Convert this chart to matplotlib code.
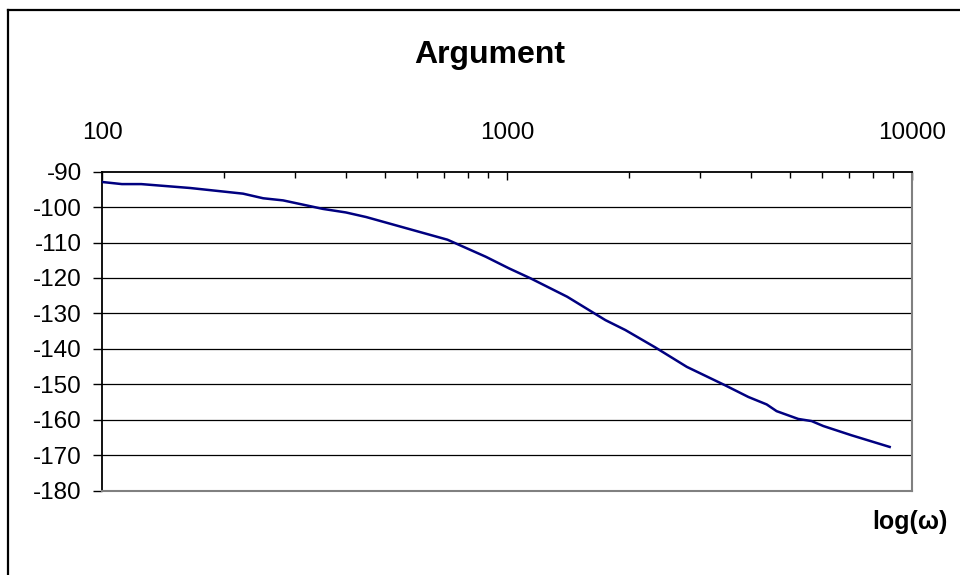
import matplotlib
matplotlib.use("Agg")
import matplotlib.pyplot as plt
from matplotlib.lines import Line2D
from matplotlib.ticker import LogLocator, FixedLocator, NullFormatter

plt.rcParams['font.family'] = ['Liberation Sans', 'DejaVu Sans']

omega = [100, 112, 125, 165, 223, 250, 280, 351, 400, 449, 713, 886, 1012, 1143,
         1408, 1750, 1960, 2323, 2780, 3456, 3945, 4377, 4632, 5238, 5650, 6040,
         7085, 8808]
arg = [-92.9, -93.5, -93.5, -94.6, -96.2, -97.5, -98.1, -100.5, -101.5, -102.8,
       -109.2, -114.0, -117.3, -120.1, -125.3, -131.9, -134.7, -139.6, -145.1,
       -150.3, -153.6, -155.7, -157.6, -159.8, -160.4, -161.8, -164.4, -167.7]
x_major = [100, 1000, 10000]
x_labels = ['100', '1000', '10000']
y_ticks = list(range(-180, -89, 10))
y_labels = [str(v) for v in y_ticks]

W, H = 960, 575
fig = plt.figure(figsize=(W / 100, H / 100), dpi=100)
ax = fig.add_axes([102 / W, 1 - 490.5 / H, (912 - 102) / W, (490.5 - 171.7) / H])

ax.plot(omega, arg, color='#000080', lw=1.8, zorder=3)
ax.set_xscale('log')
ax.set_xlim(100, 10000)
ax.set_ylim(-180, -90)

ax.xaxis.tick_top()
ax.xaxis.set_major_locator(FixedLocator(x_major))
ax.set_xticklabels(x_labels)
ax.xaxis.set_minor_locator(LogLocator(base=10, subs=range(2, 10)))
ax.xaxis.set_minor_formatter(NullFormatter())
ax.tick_params(axis='x', which='major', direction='in', length=6, width=1,
               color='black', labelsize=17.5, pad=20)
ax.tick_params(axis='x', which='minor', direction='in', length=4.5, width=1,
               color='black')

ax.set_yticks(y_ticks)
ax.set_yticklabels(y_labels)
ax.tick_params(axis='y', which='major', direction='out', length=6.5, width=1,
               color='black', labelsize=17.5, pad=8)

for v in y_ticks[1:-1]:
    ax.axhline(v, color='black', lw=0.9, zorder=1)

ax.spines['left'].set_color('black')
ax.spines['left'].set_linewidth(1.3)
ax.spines['top'].set_color('black')
ax.spines['top'].set_linewidth(1.3)
ax.spines['right'].set_color('#808080')
ax.spines['right'].set_linewidth(1.5)
ax.spines['bottom'].set_color('#808080')
ax.spines['bottom'].set_linewidth(1.5)

fig.text(490 / W, 1 - 55 / H, 'Argument', ha='center', va='center',
         fontsize=23, fontweight='bold')
fig.text(910 / W, 1 - 522 / H, 'log(ω)', ha='center', va='center',
         fontsize=18, fontweight='bold')

# outer chart border (left and top visible)
fig.add_artist(Line2D([7.5 / W, 7.5 / W], [0, 1 - 10 / H], color='black', lw=1.6,
                      transform=fig.transFigure))
fig.add_artist(Line2D([7.5 / W, 1], [1 - 10 / H, 1 - 10 / H], color='black', lw=1.6,
                      transform=fig.transFigure))

fig.savefig('out.png', dpi=100)
